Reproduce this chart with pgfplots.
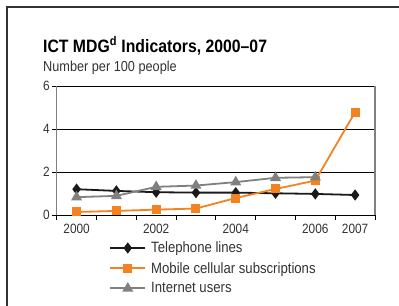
\documentclass[border=0pt]{standalone}
\usepackage{fontspec}
\setmainfont{Liberation Sans}[FakeStretch=0.88]
\usepackage{pgfplots}
\pgfplotsset{compat=1.18}
\definecolor{orng}{HTML}{F58220}
\definecolor{gry}{HTML}{808080}
\definecolor{blk}{HTML}{1A1A1A}
\definecolor{txt}{HTML}{333333}
\begin{document}
\begin{tikzpicture}[x=1bp,y=1bp]
\useasboundingbox (0,0) rectangle (399,306);
\draw[line width=1.4bp, color=black!80] (7,0) -- (7,299) -- (399,299);
\node[anchor=base west, inner sep=0, font=\bfseries\fontsize{18}{20}\selectfont] at (43,254) {ICT MDG\textsuperscript{d} Indicators, 2000--07};
\node[anchor=base west, inner sep=0, text=txt, font=\fontsize{14.5}{16}\selectfont] at (43,235) {Number per 100 people};
\begin{axis}[
  at={(56.7bp,91bp)}, anchor=south west,
  scale only axis, width=318.3bp, height=129bp,
  xmin=-0.5, xmax=7.5, ymin=0, ymax=6,
  ytick={0,2,4,6},
  xtick={0,...,7},
  xticklabels={2000,,2002,,2004,,2006,2007},
  minor xtick={-0.5,0.5,...,7.5},
  major x tick style={draw=none},
  minor x tick style={black, line width=0.8bp},
  y tick style={black, line width=0.8bp},
  minor tick length=4.5bp, major tick length=4.5bp,
  tick align=outside, xtick pos=bottom, ytick pos=left,
  ymajorgrids, major grid style={black, line width=0.8bp},
  separate axis lines,
  x axis line style={black, line width=0.9bp},
  y axis line style={gry, line width=1.2bp},
  tick label style={text=txt, font=\fontsize{13.5}{14}\selectfont},
  /pgf/number format/assume math mode=true,
  xticklabel style={yshift=-1bp},
  yticklabel style={xshift=1bp},
  legend style={at={(0.1650,-0.195)}, anchor=north west, draw=none, fill=none,
    inner sep=0pt, font=\fontsize{15}{16}\selectfont, text=txt, row sep=5bp,
    nodes={inner xsep=5bp, inner ysep=1.5bp}},
  legend cell align=left,
  legend image code/.code={\draw[mark repeat=2,mark phase=2,#1] plot coordinates {(0bp,0bp) (17.5bp,0bp) (35bp,0bp)};},
]
\addplot[blk, line width=1.8bp, mark=diamond*, mark size=4.2bp, mark options={fill=blk}] coordinates {
(0,1.20) (1,1.12) (2,1.06) (3,1.04) (4,1.04) (5,1.01) (6,0.98) (7,0.93)};
\addplot[orng, line width=1.8bp, mark=square*, mark size=3.6bp, mark options={fill=orng}] coordinates {
(0,0.14) (1,0.19) (2,0.25) (3,0.30) (4,0.79) (5,1.21) (6,1.60) (7,4.78)};
\addplot[gry, line width=1.8bp, mark=triangle*, mark size=4.6bp, mark options={fill=gry}] coordinates {
(0,0.83) (1,0.89) (2,1.31) (3,1.37) (4,1.53) (5,1.73) (6,1.76)};
\legend{Telephone lines, Mobile cellular subscriptions, Internet users}
\end{axis}
\end{tikzpicture}
\end{document}
